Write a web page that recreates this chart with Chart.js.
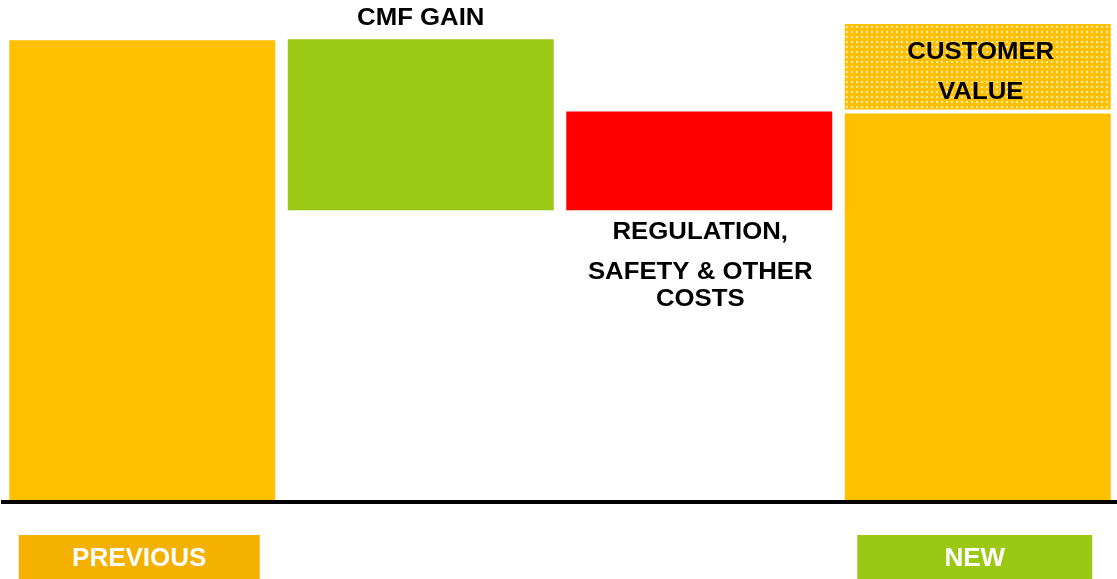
<!DOCTYPE html>
<html>
<head>
<meta charset="utf-8">
<script src="https://cdn.jsdelivr.net/npm/chart.js@4"></script>
<style>
  html, body { margin: 0; padding: 0; background: #fff; }
  #wrap { width: 1117px; height: 579px; }
</style>
</head>
<body>
<div id="wrap"><canvas id="chart" width="1117" height="579"></canvas></div>
<script>
// data (arbitrary units, 0 = baseline, 100 = top of plot)
const categories = ['Previous', 'CMF gain', 'Regulation, safety & other costs', 'New'];
const barLow = [0, 58.1, 58.1, 0];
const barHigh = [92.0, 92.2, 77.8, 77.4];
const customerLow = [null, null, null, 78.2];
const customerHigh = [null, null, null, 95.2];
const axisLabels = ['PREVIOUS', '', '', 'NEW'];
const gainNote = ['CMF GAIN'];
const costNote = ['REGULATION,', 'SAFETY & OTHER', 'COSTS'];
const customerNote = ['CUSTOMER', 'VALUE'];

const YELLOW = '#FFC000';
const GREEN = '#9BC914';
const RED = '#FF0000';
const barColors = [YELLOW, GREEN, RED, YELLOW];
const axisBoxColors = ['#F5B100', null, null, '#9BC813'];

function dotPattern() {
    const c = document.createElement('canvas');
    c.width = 5; c.height = 5;
    const g = c.getContext('2d');
    g.fillStyle = YELLOW;
    g.fillRect(0, 0, 5, 5);
    g.fillStyle = '#FFEBB0';
    g.fillRect(1, 1, 2, 2);
    return g.createPattern(c, 'repeat');
}

const FONT = '"Liberation Sans", Arial, sans-serif';

// draw bold text a bit wider, like the original
function wideText(ctx, text, x, y, size, color, stretch) {
    ctx.save();
    ctx.font = 'bold ' + size + 'px ' + FONT;
    ctx.fillStyle = color;
    ctx.textAlign = 'center';
    ctx.textBaseline = 'middle';
    ctx.translate(x, y);
    ctx.scale(stretch, 1);
    ctx.fillText(text, 0, 0);
    ctx.restore();
}

const notesPlugin = {
    id: 'notes',
    afterDraw(chart) {
        const ctx = chart.ctx;
        const bars = chart.getDatasetMeta(0).data;
        const cv = chart.getDatasetMeta(1).data[3];

        // above the gain bar
        gainNote.forEach((t, i) => wideText(ctx, t, bars[1].x, bars[1].y - 20 + i * 30, 23, '#000', 1.12));
        // below the cost bar
        const costOffsets = [22, 62, 89];
        costNote.forEach((t, i) => wideText(ctx, t, bars[2].x + 1, bars[2].base + costOffsets[i], 23, '#000', 1.12));
        // inside the customer value block
        customerNote.forEach((t, i) => wideText(ctx, t, cv.x + 3, cv.y + 29 + i * 39.5, 23, '#000', 1.12));

        // category boxes under the axis
        const xs = chart.scales.x;
        const boxW = [241, 0, 0, 235];
        axisLabels.forEach((lab, i) => {
            if (!lab) return;
            const cx = xs.getPixelForValue(i) - 3;
            const w = boxW[i];
            ctx.save();
            ctx.fillStyle = axisBoxColors[i];
            ctx.fillRect(cx - w / 2, 535, w, 44);
            ctx.restore();
            wideText(ctx, lab, cx, 558.5, 26, '#fff', 1);
        });
    }
};

new Chart(document.getElementById('chart'), {
    type: 'bar',
    data: {
        labels: categories,
        datasets: [
            {
                data: barLow.map((lo, i) => [lo, barHigh[i]]),
                backgroundColor: barColors,
                borderWidth: 0,
                barPercentage: 0.955,
                categoryPercentage: 1,
                grouped: false
            },
            {
                data: customerLow.map((lo, i) => lo === null ? null : [lo, customerHigh[i]]),
                backgroundColor: dotPattern(),
                borderWidth: 0,
                barPercentage: 0.955,
                categoryPercentage: 1,
                grouped: false
            }
        ]
    },
    options: {
        responsive: false,
        animation: false,
        layout: { padding: { left: 3, right: 0, top: 0, bottom: 69 } },
        plugins: { legend: { display: false }, tooltip: { enabled: false } },
        scales: {
            x: {
                grid: { display: false },
                ticks: { display: false },
                border: { display: true, color: '#000', width: 4, z: 1 }
            },
            y: {
                display: false,
                min: 0,
                max: 100
            }
        }
    },
    plugins: [notesPlugin]
});
</script>
</body>
</html>
